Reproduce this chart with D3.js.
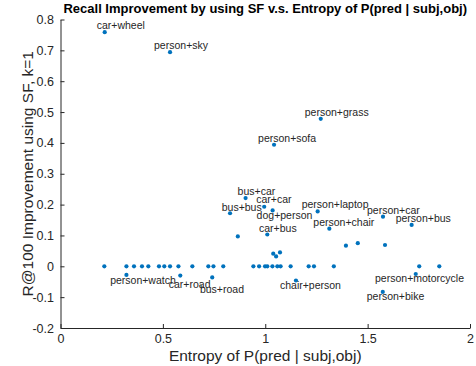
<!DOCTYPE html>
<html>
<head>
<meta charset="utf-8">
<script src="https://cdn.jsdelivr.net/npm/d3@7"></script>
<style>
  body { margin: 0; background: #fff; }
  text { font-family: "Liberation Sans", Arial, Helvetica, sans-serif; }
</style>
</head>
<body>
<div id="chart"></div>
<script>
// labelled pairs
const pairNames = ['car+wheel', 'person+sky', 'person+grass', 'person+sofa', 'bus+car',
  'car+car', 'dog+person', 'bus+bus', 'person+laptop', 'person+chair', 'person+car',
  'person+bus', 'car+bus', 'person+watch', 'car+road', 'bus+road', 'chair+person',
  'person+motorcycle', 'person+bike'];
const pairEntropy = [0.216, 0.535, 1.271, 1.043, 0.904, 0.995, 1.036, 0.828, 1.256, 1.313,
  1.575, 1.715, 1.010, 0.322, 0.585, 0.741, 1.150, 1.735, 1.574];
const pairGain = [0.759, 0.694, 0.478, 0.394, 0.221, 0.193, 0.181, 0.172, 0.178, 0.122,
  0.161, 0.134, 0.103, -0.028, -0.030, -0.036, -0.046, -0.025, -0.083];

// the rest of the pairs, no label
const otherEntropy = [0.866, 1.039, 1.053, 1.072, 1.394, 1.452, 1.585,
  0.214, 0.322, 0.359, 0.398, 0.429, 0.481, 0.507, 0.535, 0.576, 0.644, 0.722, 0.747,
  0.795, 0.942, 0.970, 0.999, 1.010, 1.035, 1.059, 1.075, 1.124, 1.212, 1.238, 1.335,
  1.752, 1.850];
const otherGain = [0.097, 0.041, 0.032, 0.045, 0.067, 0.075, 0.069,
  0, 0, 0, 0, 0, 0, 0, 0, 0, 0, 0, 0,
  0, 0, 0, 0, 0, 0, 0, 0, 0, 0, 0, 0,
  0, 0];

const xTicks = [0, 0.5, 1, 1.5, 2];
const yTicks = [-0.2, -0.1, 0, 0.1, 0.2, 0.3, 0.4, 0.5, 0.6, 0.7, 0.8];

// label nudges in px (layout only)
const nudge = {
  'car+wheel': [-8, -3], 'bus+car': [-8, -3], 'car+car': [-8, -3.5], 'bus+bus': [-8.3, -2.7],
  'car+bus': [-8.3, -3], 'dog+person': [-16, 8.6], 'person+motorcycle': [-40.7, 8.4],
  'person+bike': [-16, 8.4], 'person+watch': [-16.3, 9.3], 'car+road': [-11.5, 12.6],
  'bus+road': [-12.3, 15.6], 'chair+person': [-16, 8.6]
};

const W = 476, H = 366;
const mLeft = 60.5, mRight = 470, mTop = 19.5, mBottom = 328;
const ink = '#262626', blue = '#0072BD';

const svg = d3.select('#chart').append('svg')
    .attr('width', W)
    .attr('height', H);

const x = d3.scaleLinear().domain([0, 2]).range([mLeft, mRight]);
const y = d3.scaleLinear().domain([-0.2, 0.8]).range([mBottom, mTop]);

const fmt = d => String(Math.round(d * 10) / 10);

const gx = svg.append('g')
    .attr('transform', `translate(0,${mBottom})`)
    .call(d3.axisBottom(x).tickValues(xTicks).tickFormat(fmt).tickSizeInner(-4).tickSizeOuter(0));
gx.selectAll('text').attr('y', 14.7).attr('dy', 0);

const gy = svg.append('g')
    .attr('transform', `translate(${mLeft},0)`)
    .call(d3.axisLeft(y).tickValues(yTicks).tickFormat(fmt).tickSizeInner(-4).tickSizeOuter(0));
gy.selectAll('text').attr('x', -6.5);

svg.selectAll('.domain, .tick line').attr('stroke', ink).attr('stroke-width', 1);
svg.selectAll('.tick text').attr('fill', ink).attr('font-size', '12.5px')
    .attr('font-family', '"Liberation Sans", Arial, sans-serif');

// points
const pts = otherEntropy.map((e, i) => ({ e, g: otherGain[i] }))
  .concat(pairEntropy.map((e, i) => ({ e, g: pairGain[i] })));

svg.append('g').selectAll('circle')
  .data(pts)
  .join('circle')
    .attr('cx', d => x(d.e))
    .attr('cy', d => y(d.g))
    .attr('r', 2.1)
    .attr('fill', blue);

// pair labels
svg.append('g').selectAll('text')
  .data(pairNames)
  .join('text')
    .attr('x', (d, i) => x(pairEntropy[i]) + (nudge[d] ? nudge[d][0] : -16))
    .attr('y', (d, i) => y(pairGain[i]) + (nudge[d] ? nudge[d][1] : -3))
    .attr('font-size', '10.5px')
    .attr('fill', ink)
    .text(d => d);

// title and axis labels
svg.append('text')
    .attr('x', (mLeft + mRight) / 2)
    .attr('y', 13)
    .attr('text-anchor', 'middle')
    .attr('font-size', '13px')
    .attr('font-weight', 'bold')
    .attr('fill', '#000')
    .text('Recall Improvement by using SF v.s. Entropy of P(pred | subj,obj)');

svg.append('text')
    .attr('x', (mLeft + mRight) / 2)
    .attr('y', 360.5)
    .attr('text-anchor', 'middle')
    .attr('font-size', '15.5px')
    .attr('fill', ink)
    .text('Entropy of P(pred | subj,obj)');

svg.append('text')
    .attr('transform', `translate(32.5,${(mTop + mBottom) / 2}) rotate(-90)`)
    .attr('text-anchor', 'middle')
    .attr('font-size', '15.5px')
    .attr('fill', ink)
    .text('R@100 Improvement using SF, k=1');
</script>
</body>
</html>
